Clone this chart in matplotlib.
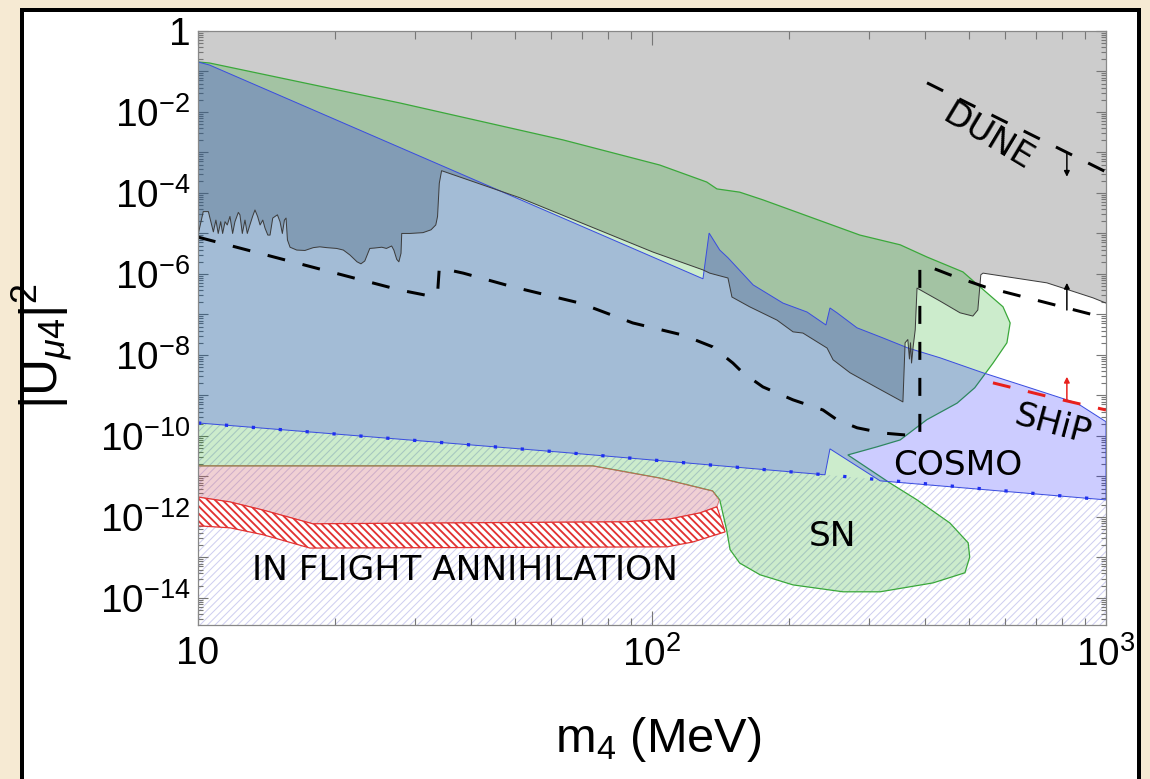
import numpy as np
import matplotlib
matplotlib.use('Agg')
import matplotlib.pyplot as plt
from matplotlib.patches import Rectangle
from matplotlib.ticker import LogLocator, FixedLocator, FixedFormatter, NullFormatter

# heavy-neutrino mass m4 in MeV, mixing given as log10 |U_mu4|^2

# upper grey region (lab / accelerator bounds), lower edge
gray_m = [10.0, 10.27, 10.54, 10.81, 10.95, 11.08, 11.22, 11.33, 11.47, 11.60,
          11.76, 11.92, 12.06, 12.27, 12.37, 12.52, 12.69, 12.84, 13.01, 13.19,
          13.35, 13.53, 13.70, 13.89, 14.05, 14.25, 14.41, 14.61, 14.78, 14.96,
          15.16, 15.34, 15.50, 15.63, 15.74, 15.95, 16.5, 17.2, 17.95, 18.55,
          19.2, 20.2, 20.9, 21.6, 22.4, 22.85, 23.3, 23.9, 24.5, 25.4,
          26.0, 26.7, 27.0, 27.4, 27.7, 28.0, 28.1, 29.3, 31.3, 32.6,
          33.4, 33.7, 34.0, 34.4, 51.2, 100.5, 129.5, 134, 147, 150,
          164, 188.5, 204.5, 215, 243, 250.5, 273, 313, 357, 361,
          366, 369, 371, 373, 376, 380, 383.5, 431, 477, 509,
          522, 530, 536, 741, 936, 1000]
gray_logu = [-5.04, -4.46, -4.46, -4.96, -4.67, -5.00, -4.71, -5.00, -4.71, -4.79,
             -4.58, -5.00, -4.71, -4.48, -4.54, -5.00, -4.67, -5.00, -4.79, -4.58,
             -4.42, -4.58, -4.79, -4.67, -4.87, -5.04, -5.04, -4.62, -4.58, -4.54,
             -4.71, -5.00, -4.67, -4.62, -5.16, -5.34, -5.41, -5.42, -5.35, -5.33,
             -5.35, -5.37, -5.41, -5.53, -5.70, -5.75, -5.68, -5.37, -5.36, -5.34,
             -5.37, -5.31, -5.41, -5.64, -5.70, -5.49, -5.00, -5.00, -4.98, -4.91,
             -4.79, -4.58, -3.76, -3.45, -4.12, -5.46, -5.90, -5.98, -6.10, -6.57,
             -6.81, -7.14, -7.43, -7.46, -7.83, -8.12, -8.44, -8.81, -9.16, -7.70,
             -7.62, -8.10, -7.70, -8.20, -7.80, -7.38, -6.35, -6.67, -6.96, -7.04,
             -6.89, -6.02, -5.98, -6.22, -6.59, -6.72]

# supernova contour (green)
sn_m = [10.0, 10.6, 27.9, 63.7, 104, 132, 139, 156, 175.5, 287,
        352, 403, 484, 528, 593, 615, 605, 564, 514, 470,
        403, 352, 313, 270, 334, 383.5, 453, 497, 501, 489,
        416, 318, 263.5, 204.5, 173, 156, 148.6, 146, 141, 136,
        104, 74.1, 10.0]
sn_logu = [-0.765, -0.79, -1.78, -2.69, -3.31, -3.73, -3.90, -3.98, -4.17, -5.04,
           -5.28, -5.58, -5.95, -6.32, -6.81, -7.21, -7.70, -8.20, -8.81, -9.19,
           -9.60, -10.10, -10.27, -10.47, -11.16, -11.58, -12.15, -12.64, -12.99, -13.38,
           -13.63, -13.85, -13.85, -13.68, -13.43, -13.14, -12.81, -12.32, -11.58, -11.36,
           -11.04, -10.74, -10.74]

# cosmology region (blue)
cosmo_m = [10.0, 10.6, 129.5, 133.6, 141, 147, 167, 194.3, 219.5, 241.6,
           246.6, 255.6, 282.8, 322.6, 366.5, 430.7, 535.5, 670, 863, 1000,
           1000, 318, 246.6, 240.4, 62.7, 10.0]
cosmo_logu = [-0.765, -0.84, -6.12, -4.99, -5.41, -5.60, -6.27, -6.72, -6.94, -7.26,
              -6.84, -6.96, -7.33, -7.58, -7.83, -8.07, -8.44, -8.79, -9.19, -9.65,
              -11.58, -11.11, -10.32, -10.96, -10.40, -9.68]
bbn_m = [10.0, 62.7, 240.4, 1000]
bbn_logu = [-9.68, -10.40, -10.96, -11.58]

# in-flight annihilation: shaded part and hatched band
ifa_m = [10.0, 74.1, 104, 136, 139, 140.6, 139, 127.6, 109.6, 88.2, 17.9, 13.9, 11.76, 10.0]
ifa_logu = [-10.74, -10.74, -11.04, -11.36, -11.51, -11.58, -11.75, -11.90, -12.05, -12.12,
            -12.17, -11.83, -11.63, -11.51]
band_m = [10.0, 11.76, 13.9, 17.9, 88.2, 109.6, 127.6, 139, 144.9, 123,
          107.9, 17.65, 13.9, 11.76, 10.0]
band_logu = [-11.51, -11.63, -11.83, -12.17, -12.12, -12.05, -11.90, -11.75, -12.37, -12.62,
             -12.74, -12.77, -12.44, -12.27, -12.22]

# future sensitivities
sens_m = [10.0, 27.9, 31.6, 33.7, 34.0, 38.4, 49.4, 69.4, 90.7, 117,
          136, 150.7, 158.5, 175.5, 204.5, 238, 255.5, 283, 323, 364.5,
          389, 389, 414, 453, 541, 1000]
sens_logu = [-5.09, -6.40, -6.52, -6.49, -5.85, -5.98, -6.32, -6.72, -7.21, -7.51,
             -7.80, -8.20, -8.44, -8.79, -9.11, -9.36, -9.60, -9.80, -9.93, -9.98,
             -9.98, -5.83, -5.85, -6.02, -6.32, -7.09]
dune_m = [403.4, 1000]
dune_logu = [-1.28, -3.48]
ship_m = [563.6, 753, 1000]
ship_logu = [-8.69, -9.04, -9.36]

yticks_exp = list(range(0, 15))
xticks = [10, 100, 1000]
xtick_labels = ['10', r'$10^2$', r'$10^3$']

DPI = 90
plt.rcParams['mathtext.fontset'] = 'custom'
plt.rcParams['mathtext.rm'] = 'Liberation Sans'
plt.rcParams['mathtext.it'] = 'Liberation Sans:italic'
plt.rcParams['mathtext.bf'] = 'Liberation Sans:bold'
plt.rcParams['font.family'] = 'Liberation Sans'


def u(vals):
    return 10.0 ** np.asarray(vals, dtype=float)


def hatch_width(patch, w):
    if hasattr(patch, 'set_hatch_linewidth'):
        patch.set_hatch_linewidth(w)


fig = plt.figure(figsize=(1150 / DPI, 779 / DPI), dpi=DPI, facecolor='#f6ead3')
frame = Rectangle((22 / 1150, -0.05), (1139 - 22) / 1150, 1 - 10 / 779 + 0.05,
                  transform=fig.transFigure, facecolor='white', edgecolor='black',
                  linewidth=3.2, zorder=-10)
fig.patches.append(frame)

ax = fig.add_axes([198 / 1150, 1 - 625 / 779, 908 / 1150, 594 / 779])
ax.set_xscale('log')
ax.set_yscale('log')
ymin = 10 ** -14.67
ax.set_xlim(10, 1000)
ax.set_ylim(ymin, 1)

# grey region from its lower edge up to the top of the frame
gx = np.r_[gray_m, 1000, 10]
gy = np.r_[u(gray_logu), 1, 1]
ax.fill(gx, gy, facecolor='#cccccc', edgecolor='none', zorder=1)

# hatched area below the dotted line
plt.rcParams['hatch.linewidth'] = 0.8
bbn = ax.fill_between(bbn_m, u(bbn_logu), ymin, facecolor='none', edgecolor='#cfcff0',
                      hatch='////', linewidth=0, zorder=1.5)
hatch_width(bbn, 0.8)

# supernova
ax.fill(sn_m, u(sn_logu), facecolor=(0.0, 0.63, 0.0, 0.2), edgecolor='#3aa83a',
        linewidth=1.0, zorder=2)

# in-flight annihilation
ax.fill(ifa_m, u(ifa_logu), facecolor=(0.8, 0.35, 0.4, 0.28), edgecolor='#e06060',
        linewidth=0.6, zorder=2)
plt.rcParams['hatch.linewidth'] = 1.5
band = ax.fill(band_m, u(band_logu), facecolor='white', edgecolor='#e23232',
               hatch='\\\\\\\\', linewidth=1.0, zorder=2.2)[0]
hatch_width(band, 1.5)

# cosmology
ax.fill(cosmo_m, u(cosmo_logu), facecolor=(0.0, 0.0, 1.0, 0.2), edgecolor='#3a4de0',
        linewidth=0.8, zorder=3)
ax.plot(bbn_m, u(bbn_logu), color='#1e2ff0', linewidth=2.6,
        linestyle=(0, (1.0, 7.3)), zorder=3.2)

# outline of the grey region
ax.plot(gray_m, u(gray_logu), color='#3c3c3c', linewidth=0.8, zorder=4)

# sensitivity curves
ax.plot(sens_m, u(sens_logu), color='black', linewidth=2.4, linestyle=(0, (6, 6)), zorder=5)
ax.plot(dune_m, u(dune_logu), color='black', linewidth=2.4, linestyle=(0, (6, 6)), zorder=5)
ax.plot(ship_m, u(ship_logu), color='#e8201c', linewidth=2.4, linestyle=(0, (6, 6)), zorder=5)

arrow_m = 820
for base, tip, col in [(-3.01, -3.60, 'black'), (-6.89, -6.22, 'black'), (-9.11, -8.54, '#e8201c')]:
    ax.annotate('', xy=(arrow_m, 10 ** tip), xytext=(arrow_m, 10 ** base),
                arrowprops=dict(arrowstyle='-|>', color=col, lw=1.2, mutation_scale=9,
                                shrinkA=0, shrinkB=0), zorder=6)

lab = dict(family='DejaVu Sans', fontsize=27.5, ha='center', va='center', zorder=7)
ax.text(550, 10 ** -2.62, 'DUNE', rotation=-31, **lab)
ax.text(765, 10 ** -9.72, 'SHiP', rotation=-15, **lab)
ax.text(472, 10 ** -10.72, 'COSMO', **lab)
ax.text(250, 10 ** -12.48, 'SN', **lab)
ax.text(38.7, 10 ** -13.32, 'IN FLIGHT ANNIHILATION', **lab)

# ticks
ax.yaxis.set_major_locator(FixedLocator([10.0 ** -k for k in yticks_exp]))
ax.yaxis.set_major_formatter(FixedFormatter(
    ['1' if k == 0 else (r'$10^{-%d}$' % k if k % 2 == 0 else '') for k in yticks_exp]))
ax.yaxis.set_minor_locator(LogLocator(base=10, subs=np.arange(2, 10), numticks=100))
ax.yaxis.set_minor_formatter(NullFormatter())
ax.xaxis.set_major_locator(FixedLocator(xticks))
ax.xaxis.set_major_formatter(FixedFormatter(xtick_labels))
ax.xaxis.set_minor_locator(LogLocator(base=10, subs=np.arange(2, 10), numticks=100))
ax.xaxis.set_minor_formatter(NullFormatter())

ax.tick_params(which='both', direction='in', top=True, right=True, color='#777777',
               width=0.9, labelsize=31)
ax.tick_params(axis='y', which='major', length=8, pad=6)
ax.tick_params(axis='y', which='minor', length=4)
ax.tick_params(axis='x', which='major', length=11, pad=9)
ax.tick_params(axis='x', which='minor', length=6)
for s in ax.spines.values():
    s.set_color('#888888')
    s.set_linewidth(1.0)
    s.set_zorder(8)

ax.set_xlabel(r'$\mathrm{m}_4$ (MeV)', fontsize=39)
ax.xaxis.set_label_coords(0.507, -0.152)
ax.set_ylabel(r'$|\mathrm{U}_{\mu 4}|^2$', fontsize=41)
ax.yaxis.set_label_coords(-0.136, 0.47)

fig.savefig('out.png', dpi=DPI, facecolor=fig.get_facecolor())
